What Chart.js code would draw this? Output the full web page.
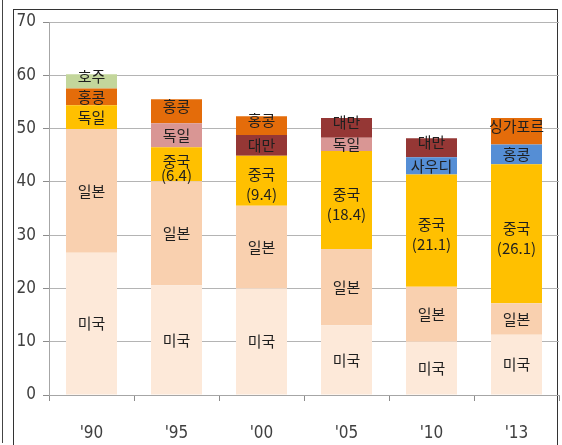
<!DOCTYPE html>
<html>
<head>
<meta charset="utf-8">
<script src="https://cdn.jsdelivr.net/npm/chart.js@4.4.0/dist/chart.umd.min.js"></script>
<style>
  html, body { margin: 0; padding: 0; background: #fff; }
  #wrap { position: relative; width: 562px; height: 445px; overflow: hidden; }
  #outer { position: absolute; left: 2px; top: 0; width: 0; height: 443px; border-left: 1px solid #444; }
  #frame { position: absolute; left: 13px; top: 9px; width: 543px; height: 460px; border: 1px solid #333; }
  canvas { position: absolute; left: 0; top: 0; }
</style>
</head>
<body>
<div id="wrap">
  <div id="outer"></div>
  <div id="frame"></div>
  <canvas id="chart" width="562" height="445"></canvas>
</div>
<script>
  // years and stacked segments, bottom to top
  const years = ["'90", "'95", "'00", "'05", "'10", "'13"];
  const usa = [26.7, 20.6, 20.0, 13.1, 10.0, 11.3];
  const japan = [23.2, 19.5, 15.5, 14.3, 10.3, 5.9];
  const thirdVals = [4.5, 6.4, 9.4, 18.4, 21.1, 26.1];
  const thirdNames = ['독일', '중국', '중국', '중국', '중국', '중국'];
  const fourthVals = [3.1, 4.5, 3.9, 2.5, 3.2, 3.7];
  const fourthNames = ['홍콩', '독일', '대만', '독일', '사우디', '홍콩'];
  const fifthVals = [2.7, 4.5, 3.5, 3.7, 3.6, 5.0];
  const fifthNames = ['호주', '홍콩', '홍콩', '대만', '대만', '싱가포르'];
  const yTicks = [0, 10, 20, 30, 40, 50, 60, 70];

  const c = {
    usa: '#FDE9D9',
    japan: '#F9D0AF',
    gold: '#FFC000',
    pink: '#D99694',
    orange: '#E46C0A',
    maroon: '#953735',
    blue: '#558ED5',
    green: '#C3D69B',
  };

  // China segments carry their value in parentheses
  const withValue = (names, vals) => names.map((n, i) => n === '중국' ? n + '\n(' + vals[i] + ')' : n);

  const layers = [
    { data: usa, names: years.map(() => '미국'), colors: c.usa },
    { data: japan, names: years.map(() => '일본'), colors: c.japan },
    { data: thirdVals, names: withValue(thirdNames, thirdVals), colors: c.gold },
    { data: fourthVals, names: fourthNames, colors: [c.orange, c.pink, c.maroon, c.pink, c.blue, c.blue] },
    { data: fifthVals, names: fifthNames, colors: [c.green, c.orange, c.orange, c.maroon, c.maroon, c.orange], top: true },
  ];

  const segmentLabels = {
    id: 'segmentLabels',
    afterDatasetsDraw(chart) {
      const ctx = chart.ctx;
      ctx.save();
      ctx.font = '15px "Noto Sans CJK KR", sans-serif';
      ctx.fillStyle = '#1F1F1F';
      ctx.textAlign = 'center';
      ctx.textBaseline = 'middle';
      chart.data.datasets.forEach((ds, di) => {
        chart.getDatasetMeta(di).data.forEach((bar, i) => {
          const lines = ds.segLabels[i].split('\n');
          const h = Math.abs(bar.base - bar.y);
          const lh = lines.length > 1 ? Math.min(20, h * 0.42) : 0;
          const cy = (bar.y + bar.base) / 2 + (ds.isTop ? -5 : 0) + (lines.length > 1 ? 4 : 0);
          lines.forEach((t, k) => {
            ctx.fillText(t, bar.x, cy + (k - (lines.length - 1) / 2) * lh);
          });
        });
      });
      ctx.restore();
    },
  };

  const axisFont = { family: '"Liberation Sans Narrow", "DejaVu Sans Condensed", sans-serif', size: 17 };

  new Chart(document.getElementById('chart'), {
    type: 'bar',
    data: {
      labels: years,
      datasets: layers.map((l) => ({
        data: l.data,
        segLabels: l.names,
        isTop: !!l.top,
        backgroundColor: l.colors,
        borderWidth: 0,
        barPercentage: 0.6,
        categoryPercentage: 1,
      })),
    },
    options: {
      responsive: false,
      animation: false,
      layout: { padding: { top: 22, right: 3, left: 0, bottom: 0 } },
      plugins: { legend: { display: false }, tooltip: { enabled: false } },
      scales: {
        x: {
          stacked: true,
          border: { color: '#A6A6A6', width: 1 },
          grid: { drawOnChartArea: false, drawTicks: true, tickLength: 6, tickColor: '#8C8C8C', offset: true },
          ticks: { color: '#404040', padding: 22, font: axisFont },
          afterFit(axis) { axis.height = 50; },
        },
        y: {
          stacked: true,
          min: 0,
          max: 70,
          afterBuildTicks(axis) { axis.ticks = yTicks.map((v) => ({ value: v })); },
          border: { color: '#A6A6A6', width: 1 },
          grid: { color: '#B4B4B4', borderDash: [2, 2], tickBorderDash: [], tickColor: '#8C8C8C', tickLength: 6 },
          ticks: { color: '#404040', padding: 7, font: axisFont },
          afterFit(axis) { axis.width = 49; },
        },
      },
    },
    plugins: [segmentLabels],
  });
</script>
</body>
</html>
